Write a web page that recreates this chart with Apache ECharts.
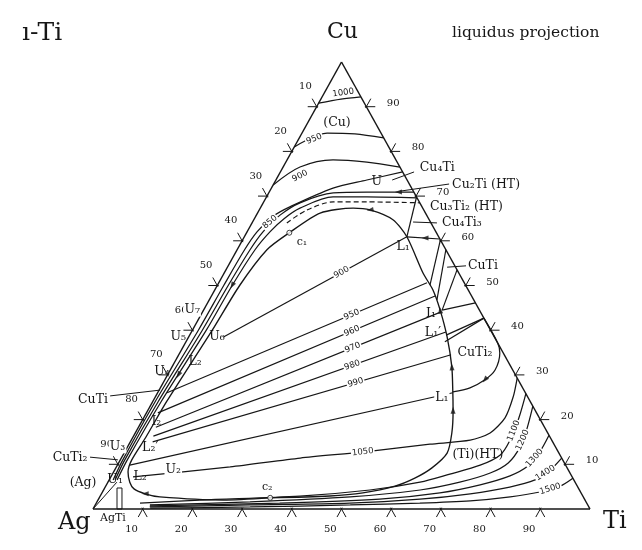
<!DOCTYPE html>
<html><head><meta charset="utf-8">
<script src="https://cdn.jsdelivr.net/npm/echarts@6/dist/echarts.min.js"></script>
<style>html,body{margin:0;padding:0;background:#fff}#c{width:642px;height:550px}</style>
</head><body><div id="c"></div>
<script>
// All compositions are [at.% Ti, at.% Cu]; at.% Ag = 100 - Ti - Cu
const tickValues = [10,20,30,40,50,60,70,80,90];

// liquidus isotherms near Cu corner
const iso1000 = [[0,90.8],[4.05,91.7],[7.8,92.2]];
const iso950  = [[0,81.0],[5.05,84.1],[10.75,83.9],[17,83]];
const iso900  = [[0,72.5],[3.4,76.5],[9.25,78.1],[16.3,77.6],[23.5,76.5]];

// monovariant valleys along the Ag-Cu side
const valleyA = [[0.8,6.5],[0.5,11],[0.5,24],[1.2,40],[1.3,50],[1.5,58],[2.0,62],[3.5,65.5],[5.8,67.6],[12.4,71.8],[18.3,73.6],[24.6,75.4]];
const valleyB = [[1.2,6.5],[0.9,11],[1.1,24],[2.0,40],[2.2,50],[2.6,58],[3.2,62],[4.8,65.8],[7.4,68.5],[13,70.7],[19.7,70.9],[29.1,70.9]];
const valleyC = [[1.6,6.5],[1.4,11],[1.7,24],[2.8,40],[3.0,50],[3.6,58],[4.6,62],[6,65],[8,67.3],[13.4,69.8],[20.2,69.8],[30.4,69.6]];
const valleyDashed = [[7.0,64.0],[9.5,66.8],[14,68.7],[20.8,68.7],[31.5,68.5]];
const agBoundary = [[0,0],[1.8,6.0]];

// liquid miscibility gap (c2 -> left branch -> c1 -> right branch -> c2)
const gapBoundary = [[34.4,2.5],[25.2,2.0],[12.1,2.7],[8.8,3.4],[6.0,4.5],[4.4,6.0],[2.9,8.3],[2.3,11],[2.6,16],[2.8,24],[4.0,40],[4.5,50],[6.0,58],[8.6,61.8],[12.6,66.2],[18.7,67.3],[22.3,66.9],[28,64.7],[32.7,60.9],[40.0,52.8],[43.9,49.0],[47.6,44.5],[52.0,38.5],[56.3,31.8],[59.4,26.0],[61.4,22.1],[63.7,17.0],[65.0,12.5],[63.6,9.2],[61.3,6.9],[58.2,5.1],[52.5,3.6],[46.2,2.9],[34.4,2.5]];
const criticalPoints = [[8.6,61.8],[34.4,2.5]];

// tie lines across the gap
const tieNames = ['900','950','960','970','980','990'];
const tieLeft  = [[7.0,38.5],[1.9,26],[2.3,21.5],[3.5,18.3],[4.0,16.3],[4.5,15.0]];
const tieRight = [[32.7,60.9],[41.9,50.6],[45,47.65],[48,44.1],[51.2,39.6],[54.8,34.5]];
const tieLabelAt = [0.644,0.71,0.70,0.69,0.68,0.68];

const line1050 = [[4.45,7.2],[22.9,9.4],[36,11.4],[47.9,12.75],[60.55,14.5],[68.2,15.4],[71.4,17],[72.7,20.4],[72.0,25.1],[70.7,29.3]];
const tieL1 = [[2.5,9.8],[59.4,26.0]];

// (Ti)(HT) isotherms
const iso1100 = [[74.2,25.8],[75.5,20.4],[76.2,15.4],[75.9,12.1],[73.0,9.8],[67.9,7.8],[62.8,6.0],[53.6,4.25],[40.2,2.9],[20.5,2.0],[8.8,1.3]];
const iso1200 = [[77,23],[78.3,18.1],[79.0,13.9],[78.4,10.3],[75.9,8.05],[70.8,6.0],[63.7,4.25],[50.4,2.7],[30.8,1.6],[11.0,0.9]];
const iso1300 = [[83.5,16.5],[83.5,12.75],[82.7,9.6],[80.2,7.4],[75.2,5.4],[68.0,3.6],[56.6,2.2],[36.9,1.3],[11.1,0.7]];
const iso1400 = [[88.6,11.4],[87.6,8.7],[85.7,6.5],[81.4,4.9],[74.2,3.4],[64.7,2.2],[51.0,1.3],[31.1,0.9],[11.2,0.45]];
const iso1500 = [[93.1,6.9],[91.4,5.1],[88.0,3.8],[82.6,2.7],[75.0,1.8],[65.1,1.3],[51.3,0.9],[31.4,0.45],[11.4,0.2]];

const cuTi2Field = [[57.3,42.7],[62.9,37.1],[64.4,34.9],[65.35,31.1],[64.4,28.9],[62.3,27.1],[59.3,26.2]];
const phaseLines = [
  [[32.7,60.9],[39.6,60.4]], [[30.2,69.8],[32.7,60.9]], [[39.8,60.2],[42.75,50.1]],
  [[42,58],[45.8,46.8]], [[46.5,53.5],[48.0,44.5]], [[48.0,44.5],[53.9,46.1]],
  [[57.3,42.7],[51.6,38.9]], [[57.3,42.7],[52.1,37.4]]
];
const leaderLines = [
  [[23.4,73.6],[26.9,75.4]], [[26.2,71.1],[35.3,72.7]], [[32.3,64.2],[37.2,64.0]],
  [[44.2,54.1],[47.85,54.4]], [[-9.2,25.3],[0.2,26.6]], [[-6.4,11.6],[-0.5,11.0]]
];
const agTiBox = [[2.48,4.7],[4.83,0],[5.83,0],[3.48,4.7],[2.48,4.7]];

const phaseNames = ['(Cu)','U','Cu₄Ti','Cu₂Ti (HT)','Cu₃Ti₂ (HT)','Cu₄Ti₃','CuTi','L₁','I₁','L₁′','CuTi₂','L₁','(Ti)(HT)','c₁','c₂','U₇','U₅','U₆','U₄','L₂','I₂','U₃','L₂′','U₂','L₂','U₁','(Ag)','CuTi','CuTi₂','AgTi'];
const phaseAt = [[5.9,86.4],[20.5,73.2],[27.6,76.3],[36.0,72.5],[34.0,67.6],[38.2,64.0],[48.25,54.4],[33.1,58.6],[46.2,43.6],[48.7,39.4],[59.4,34.9],[57.8,24.8],[71.4,12.1],[12.2,59.7],[32.6,4.9],[-2.3,44.5],[-2.1,38.5],[5.7,38.5],[-1.4,30.6],[4.1,32.9],[3.0,19.5],[-2.0,13.9],[4.7,13.6],[11.8,8.7],[5.9,7.2],[1.2,6.5],[-4.9,5.8],[-12.2,24.4],[-10.3,11.4],[5.0,-2.0]];

const isoNames = ['1000','950','900','850','1050','1100','1200','1300','1400','1500'];
const isoAt = [[3.8,93.1],[3.1,82.8],[4.4,74.5],[3.5,64.2],[47.9,12.75],[75.9,17.5],[78.75,15.4],[83.15,11.4],[87.0,8.05],[89.75,4.5]];

const arrowAt = [[22.3,66.9],[26,70.9],[36.5,60.6],[47.6,44.5],[56.3,31.8],[61.4,22.1],[8.8,3.4],[3.0,50],[2.2,30],[64.4,28.9]];

// ---------------- rendering ----------------
const INK = '#161616';
const SERIF = '"DejaVu Serif","Liberation Serif",serif';
const SANS = '"DejaVu Sans",sans-serif';
const GW = 497, GH = 447;
const tern = p => [p[0] + p[1] / 2, p[1]];
const angleOf = (a, b) => {
  const A = tern(a), B = tern(b);
  return Math.atan2((B[1]-A[1]) * GH / 100, (B[0]-A[0]) * GW / 100) * 180 / Math.PI;
};

function curve(pts, opt) {
  return Object.assign({
    type: 'line', data: pts.map(tern), symbol: 'none', showSymbol: false, silent: true,
    animation: false, clip: false, smooth: 0.3, z: 3,
    lineStyle: { color: INK, width: 1.25 }
  }, opt || {});
}

const segs = [];
function seg(a, b, w) { const A = tern(a), B = tern(b); segs.push({ value: [A[0], A[1], B[0], B[1]], w: w || 1.2 }); }

seg([0,0],[100,0],1.5); seg([100,0],[0,100],1.5); seg([0,100],[0,0],1.5);
const s = 1.8, si = 0.3;
tickValues.forEach(v => {
  seg([v, si], [v, -s], 1); seg([v - si, si], [v + s, -s], 1);
  const c = 100 - v;
  seg([-s, c], [si, c], 1); seg([-s, c + s], [si, c - si], 1);
  seg([100 - v + s, v], [100 - v - si, v], 1); seg([100 - v, v + s], [100 - v, v - si], 1);
});
for (let i = 0; i < tieNames.length; i++) seg(tieLeft[i], tieRight[i]);
seg(tieL1[0], tieL1[1]);
seg(agBoundary[0], agBoundary[1], 1);
phaseLines.forEach(l => seg(l[0], l[1]));
leaderLines.forEach(l => seg(l[0], l[1], 1));

const texts = [];
function txt(t, at, o) { texts.push(Object.assign({ t, at, size: 12, font: SERIF, align: 'center', rot: 0, bg: false }, o || {})); }
tickValues.forEach(v => {
  txt(String(v), [v, -4.5], { size: 10 });
  txt(String(v), [-4.5, 104.5 - v], { size: 10 });
  txt(String(v), [105 - v, v + 0.8], { size: 10 });
});
const leftAligned = { 'Cu₄Ti':1, 'Cu₂Ti (HT)':1, 'Cu₃Ti₂ (HT)':1, 'Cu₄Ti₃':1 };
const withBg = { 15:1, 21:1, 23:1, 11:1 };
phaseNames.forEach((n, i) => {
  const o = { size: 12.5 };
  if (leftAligned[n] || (n === 'CuTi' && i === 6)) o.align = 'left';
  if (withBg[i]) o.bg = true;
  if (n[0] === 'c' || n === 'AgTi') o.size = 11;
  txt(n, phaseAt[i], o);
});
const isoRot = [8, 22, 28, 40, 7, 68, 66, 48, 33, 17];
isoNames.forEach((n, i) => txt(n, isoAt[i], { size: 8.5, font: SANS, rot: isoRot[i], bg: true }));
for (let i = 0; i < tieNames.length; i++) {
  const a = tieLeft[i], b = tieRight[i], f = tieLabelAt[i];
  const p = [a[0] + (b[0]-a[0]) * f, a[1] + (b[1]-a[1]) * f];
  txt(tieNames[i], p, { size: 8.5, font: SANS, rot: angleOf(a, b), bg: true });
}

const arrowRot = [100, 90, 90, 8, 4, 0, 90, 151, 151, 140];

const chart = echarts.init(document.getElementById('c'), null, { renderer: 'canvas' });
chart.setOption({
  animation: false,
  backgroundColor: '#fff',
  grid: { left: 93, top: 62, width: GW, height: GH },
  xAxis: { type: 'value', min: 0, max: 100, show: false },
  yAxis: { type: 'value', min: 0, max: 100, show: false },
  graphic: [
    { type: 'text', left: 22, top: 21, style: { text: 'ı-Ti', font: '25px ' + SERIF, fill: INK } },
    { type: 'text', left: 327, top: 21, style: { text: 'Cu', font: '22px ' + SERIF, fill: INK } },
    { type: 'text', left: 452, top: 25, style: { text: 'liquidus projection', font: '15.5px ' + SERIF, fill: INK } },
    { type: 'text', left: 58, top: 511, style: { text: 'Ag', font: '24px ' + SERIF, fill: INK } },
    { type: 'text', left: 603, top: 510, style: { text: 'Ti', font: '24px ' + SERIF, fill: INK } }
  ],
  series: [
    curve(iso1000), curve(iso950), curve(iso900),
    curve(valleyA), curve(valleyB), curve(valleyC),
    curve(valleyDashed, { lineStyle: { color: INK, width: 1.2, type: [5, 3] } }),
    curve(gapBoundary, { smooth: 0.25, lineStyle: { color: INK, width: 1.35 } }),
    curve(line1050, { smooth: 0.25 }),
    curve(iso1100), curve(iso1200), curve(iso1300), curve(iso1400), curve(iso1500),
    curve(cuTi2Field),
    curve(agTiBox, { smooth: 0, lineStyle: { color: INK, width: 1 } }),
    {
      type: 'custom', coordinateSystem: 'cartesian2d', clip: false, silent: true, z: 2,
      encode: { x: [0, 2], y: [1, 3] },
      data: segs,
      renderItem: (params, api) => {
        const d = segs[params.dataIndex];
        const p1 = api.coord([d.value[0], d.value[1]]), p2 = api.coord([d.value[2], d.value[3]]);
        return { type: 'line', shape: { x1: p1[0], y1: p1[1], x2: p2[0], y2: p2[1] }, style: { stroke: INK, lineWidth: d.w } };
      }
    },
    {
      type: 'scatter', silent: true, clip: false, z: 6, symbol: 'triangle', symbolSize: [5, 7],
      itemStyle: { color: INK },
      data: arrowAt.map((p, i) => ({ value: tern(p), symbolRotate: arrowRot[i] }))
    },
    {
      type: 'scatter', silent: true, clip: false, z: 7, symbol: 'circle', symbolSize: 5,
      itemStyle: { color: '#fff', borderColor: INK, borderWidth: 1 },
      data: criticalPoints.map(tern)
    },
    {
      type: 'custom', coordinateSystem: 'cartesian2d', clip: false, silent: true, z: 10,
      data: texts.map(t => tern(t.at)),
      renderItem: (params, api) => {
        const t = texts[params.dataIndex];
        const p = api.coord([api.value(0), api.value(1)]);
        return {
          type: 'text', x: p[0], y: p[1], rotation: t.rot * Math.PI / 180,
          style: {
            text: t.t, font: t.size + 'px ' + t.font, fill: INK,
            align: t.align, verticalAlign: 'middle',
            backgroundColor: t.bg ? '#fff' : null, padding: t.bg ? [0, 1] : 0
          }
        };
      }
    }
  ]
});
</script></body></html>
